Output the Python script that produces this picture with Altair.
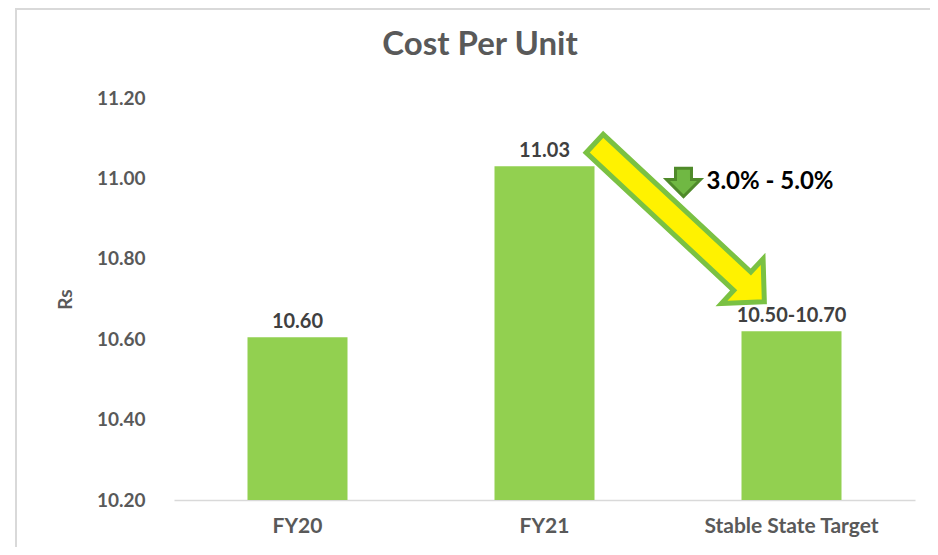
import altair as alt
import pandas as pd

# ---- data ----
categories = ["FY20", "FY21", "Stable State Target"]
values = [10.605, 11.03, 10.62]
value_labels = ["10.60", "11.03", "10.50-10.70"]
y_ticks = [10.2, 10.4, 10.6, 10.8, 11.0, 11.2]
y_domain = [10.2, 11.2]
chart_title = "Cost Per Unit"
y_title = "Rs"
change_text = ["3.0% - 5.0%"]
arrow_anchor_cat = ["Stable State Target"]
big_arrow_y = [10.89]
small_arrow_y = [10.99]

FONT = "Lato"
W, H = 741, 402
PAD = {"left": 166, "top": 90, "right": 15, "bottom": 47}

bars_df = pd.DataFrame({"cat": categories, "val": values, "lab": value_labels})
big_df = pd.DataFrame({"cat": arrow_anchor_cat, "val": big_arrow_y})
small_df = pd.DataFrame({"cat": arrow_anchor_cat, "val": small_arrow_y, "txt": change_text})
one = pd.DataFrame({"a": [0]})

xs = alt.Scale(domain=categories, paddingInner=0, paddingOuter=0)
ys = alt.Scale(domain=y_domain, zero=False, nice=False)

x_axis = alt.Axis(
    title=None, labelAngle=0, labelFontSize=21, labelFont=FONT, labelFontWeight="bold",
    labelColor="#595959", labelPadding=15, ticks=False, domainColor="#D9D9D9",
    domainWidth=1.5, grid=False)
y_axis = alt.Axis(
    values=y_ticks, format=".2f", grid=False, domain=False, ticks=False,
    labelFontSize=19, labelFont=FONT, labelFontWeight="bold", labelColor="#595959",
    labelPadding=29, title=y_title, titleFont=FONT, titleFontSize=19,
    titleFontWeight="bold", titleColor="#595959", titleX=-109, titleY=201,
    titleAngle=270, titleAlign="center", titleBaseline="middle")

x_enc = alt.X("cat:N", scale=xs, axis=x_axis)
y_enc = alt.Y("val:Q", scale=ys, axis=y_axis)

bars = alt.Chart(bars_df).mark_bar(size=100, color="#92D050").encode(
    x=x_enc, y=y_enc, y2=alt.datum(y_domain[0]),
)

labels = alt.Chart(bars_df).mark_text(
    baseline="alphabetic", dy=-9, fontSize=20, font=FONT, fontWeight="bold", color="#404040"
).encode(x=x_enc, y=y_enc, text="lab:N")

big_arrow_path = ("M -1 -0.108 L 0.74 -0.108 L 0.74 -0.263 L 1 0 "
                  "L 0.74 0.263 L 0.74 0.108 L -1 0.108 Z")
big_arrow = alt.Chart(big_df).mark_point(
    shape=big_arrow_path, size=232 * 232, angle=43, filled=True,
    fill="#FFF200", stroke="#7AC143", strokeWidth=5, opacity=1, xOffset=-112
).encode(x=x_enc, y=y_enc)

small_arrow_path = ("M -0.47 -0.83 L 0.47 -0.83 L 0.47 -0.17 L 1 -0.17 "
                    "L 0 0.83 L -1 -0.17 L -0.47 -0.17 Z")
small_arrow = alt.Chart(small_df).mark_point(
    shape=small_arrow_path, size=34 * 34, filled=True,
    fill="#70B843", stroke="#4F8A2A", strokeWidth=3, opacity=1, xOffset=-108
).encode(x=x_enc, y=y_enc)

change = alt.Chart(small_df).mark_text(
    align="left", baseline="middle", dx=-85, fontSize=24, font=FONT,
    fontWeight="bold", color="#000000"
).encode(x=x_enc, y=y_enc, text="txt:N")

title = alt.Chart(one).mark_text(
    text=chart_title, fontSize=33, font=FONT, fontWeight="bold", color="#595959",
    align="center", baseline="middle"
).encode(x=alt.value(306), y=alt.value(-53))

frame_left = alt.Chart(one).mark_rule(color="#D9D9D9", strokeWidth=2).encode(
    x=alt.value(-158), y=alt.value(-90), y2=alt.value(H + PAD["bottom"]))
frame_top = alt.Chart(one).mark_rule(color="#D9D9D9", strokeWidth=2).encode(
    x=alt.value(-158), x2=alt.value(W + PAD["right"]), y=alt.value(-89))

chart = alt.layer(
    frame_left, frame_top, bars, labels, big_arrow, small_arrow, change, title
).properties(
    width=W, height=H, padding=PAD, autosize=alt.AutoSizeParams(type="none")
).configure(background="white").configure_view(strokeWidth=0)

chart.save("out.html", embed_options={"renderer": "svg", "actions": False})
